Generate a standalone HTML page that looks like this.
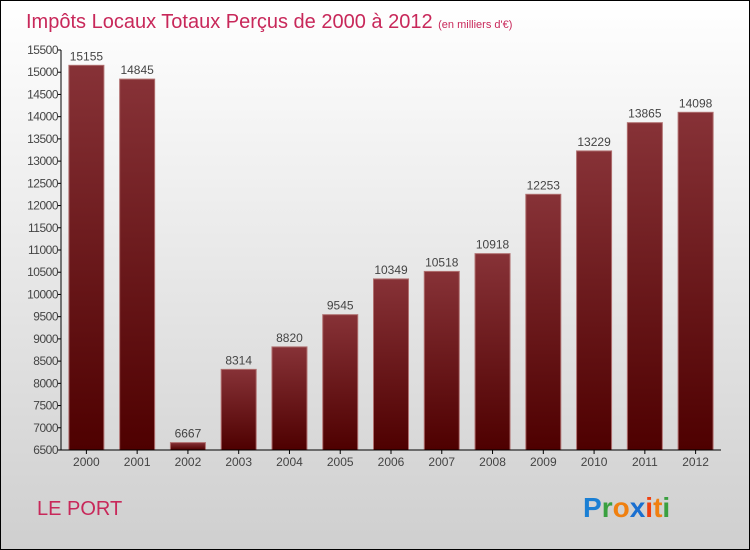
<!DOCTYPE html>
<html><head><meta charset="utf-8"><style>
body{margin:0;}
#c{width:750px;height:550px;position:relative;box-sizing:border-box;border:1px solid #000;background:linear-gradient(#ffffff,#cfcfcf);font-family:"Liberation Sans",sans-serif;overflow:hidden}
</style></head><body>
<div id="c">
<svg width="748" height="548" style="position:absolute;left:0;top:0" id="svg">
<defs><linearGradient id="bg" x1="0" y1="0" x2="0" y2="1"><stop offset="0" stop-color="#873237"/><stop offset="1" stop-color="#4e0000"/></linearGradient></defs>
<text x="25" y="27" font-size="20" fill="#c8285a">Impôts Locaux Totaux Perçus de 2000 à 2012 <tspan font-size="11">(en milliers d'€)</tspan></text>
<text x="36" y="514" font-size="20" fill="#c8285a">LE PORT</text>
<g font-size="28" font-weight="bold">
<text x="582" y="516"><tspan fill="#1a7fd4">P</tspan><tspan fill="#3aa040">r</tspan><tspan fill="#f08010">o</tspan><tspan fill="#1a6fd0">x</tspan><tspan fill="#f04010">i</tspan><tspan fill="#f08010">t</tspan><tspan fill="#3aa040">i</tspan></text>
</g>
<g id="plot"></g>
</svg>
</div>
<script>
const categories=["2000","2001","2002","2003","2004","2005","2006","2007","2008","2009","2010","2011","2012"];
const values=[15155,14845,6667,8314,8820,9545,10349,10518,10918,12253,13229,13865,14098];
const yTicks=[6500,7000,7500,8000,8500,9000,9500,10000,10500,11000,11500,12000,12500,13000,13500,14000,14500,15000,15500];
const yMin=6500,yMax=15500,x0=60,x1=720,yB=449,yT=49;
const y=v=>yB-(v-yMin)/(yMax-yMin)*(yB-yT);
const band=(x1-x0)/categories.length;
const xc=i=>x0+band*(i+0.5);
const ns="http://www.w3.org/2000/svg",g=document.getElementById('plot');
function mk(t,a,txt){const e=document.createElementNS(ns,t);for(const k in a)e.setAttribute(k,a[k]);if(txt!=null)e.textContent=txt;g.appendChild(e);return e;}
values.forEach((v,i)=>{
 const r=mk('rect',{x:xc(i)-17.5,y:y(v),width:35,height:yB-y(v),fill:'url(#bg)',stroke:'#b07070','stroke-width':1});
 
 
 const t=mk('text',{x:xc(i),y:y(v)-5,'font-size':12,'text-anchor':'middle',fill:'#444'},v);
 
 
 const c=mk('text',{x:xc(i),y:yB+16,'font-size':12,'text-anchor':'middle',fill:'#444'},categories[i]);
 
 
 const tk=mk('line',{x1:xc(i),x2:xc(i),y1:yB,y2:yB+4,stroke:'#000'});
 
 
});
yTicks.forEach(v=>{
 const l=mk('line',{x1:x0-4,x2:x0,y1:y(v),y2:y(v),stroke:'#000'});
 
 
 const t=mk('text',{x:x0-3,y:y(v)+4,'font-size':12,'text-anchor':'end',fill:'#444','letter-spacing':'-0.5'},v);
 
 
});
const ya=mk('line',{x1:x0,x2:x0,y1:yT,y2:yB,stroke:'#000'});


const xa=mk('line',{x1:x0,x2:x1,y1:yB,y2:yB,stroke:'#000'});


</script>
</body></html>
